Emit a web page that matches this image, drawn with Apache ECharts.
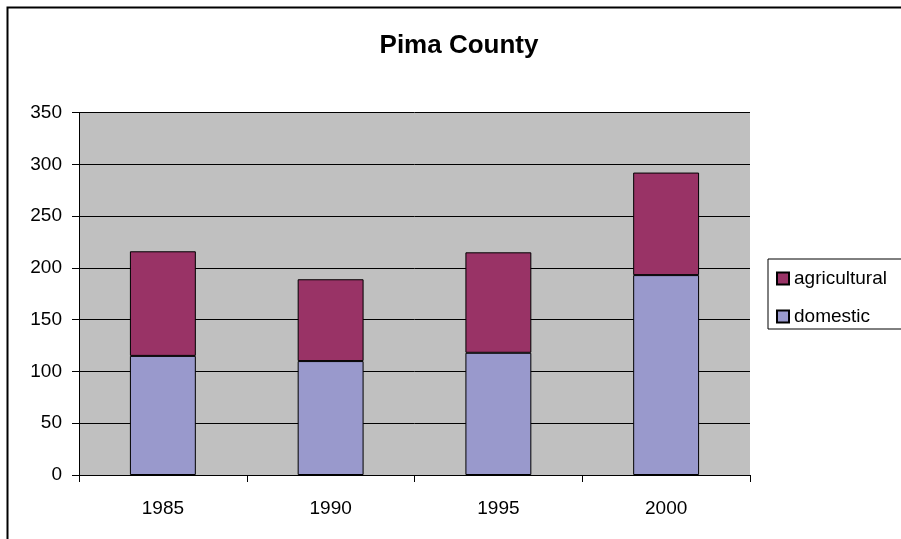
<!DOCTYPE html>
<html>
<head>
<meta charset="utf-8">
<script src="https://cdn.jsdelivr.net/npm/echarts@6/dist/echarts.min.js"></script>
<style>
  html, body { margin: 0; padding: 0; background: #fff; }
  #chart { width: 901px; height: 539px; }
</style>
</head>
<body>
<div id="chart"></div>
<script>
// Water use in Pima County, stacked by sector
const years = ['1985', '1990', '1995', '2000'];
const domestic = [115, 110, 118, 193];
const agricultural = [101, 79, 97, 99];
const yTicks = [0, 50, 100, 150, 200, 250, 300, 350];
const chartTitle = 'Pima County';

const FONT = 'Liberation Sans, Arial, sans-serif';
const chart = echarts.init(document.getElementById('chart'), null, { renderer: 'canvas' });

chart.setOption({
  backgroundColor: '#ffffff',
  animation: false,
  graphic: [
    {
      type: 'text',
      x: 459,
      y: 45.5,
      style: {
        text: chartTitle,
        align: 'center',
        verticalAlign: 'middle',
        font: 'bold 26px ' + FONT,
        fill: '#000'
      },
      silent: true
    },
    {
      type: 'rect',
      shape: { x: 7.5, y: 7.5, width: 1000, height: 1000 },
      style: { fill: 'none', stroke: '#000', lineWidth: 2 },
      silent: true,
      z: 100
    }
  ],
  legend: {
    data: ['agricultural', 'domestic'],
    orient: 'vertical',
    left: 768,
    top: 259,
    padding: [10, 40, 3, 8],
    itemGap: 19,
    itemWidth: 12,
    itemHeight: 12,
    icon: 'rect',
    borderColor: '#000',
    borderWidth: 1,
    textStyle: { fontFamily: FONT, fontSize: 19, color: '#000' }
  },
  grid: { left: 79, right: 151, top: 112.5, bottom: 64, containLabel: false,
          show: true, backgroundColor: '#c0c0c0', borderWidth: 0 },
  xAxis: {
    type: 'category',
    data: years,
    axisLine: { lineStyle: { color: '#000', width: 1 } },
    axisTick: { show: true, alignWithLabel: false, length: 7, lineStyle: { color: '#000' } },
    axisLabel: { fontFamily: FONT, fontSize: 19, color: '#000', margin: 24 }
  },
  yAxis: {
    type: 'value',
    min: yTicks[0],
    max: yTicks[yTicks.length - 1],
    interval: 50,
    axisLine: { show: true, lineStyle: { color: '#000', width: 1 } },
    axisTick: { show: true, length: 7, lineStyle: { color: '#000' } },
    axisLabel: { fontFamily: FONT, fontSize: 19, color: '#000', margin: 17 },
    splitLine: { show: true, lineStyle: { color: '#000', width: 1 } }
  },
  series: [
    {
      name: 'domestic', type: 'bar', stack: 'use', data: domestic,
      barWidth: '39.3%',
      itemStyle: { color: '#9999cc', borderColor: '#000', borderWidth: 1 }
    },
    {
      name: 'agricultural', type: 'bar', stack: 'use', data: agricultural,
      barWidth: '39.3%',
      itemStyle: { color: '#993366', borderColor: '#000', borderWidth: 1 }
    }
  ]
});
</script>
</body>
</html>
